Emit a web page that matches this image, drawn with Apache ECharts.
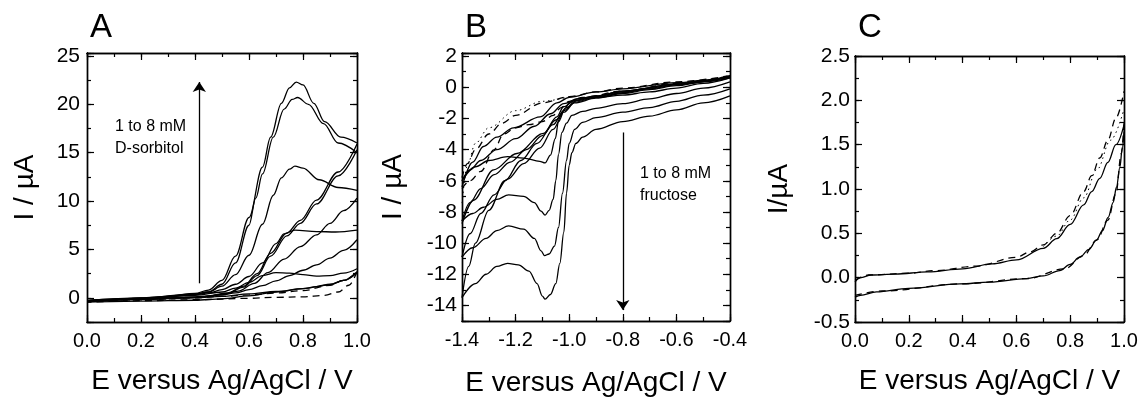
<!DOCTYPE html>
<html><head><meta charset="utf-8">
<script src="https://cdn.jsdelivr.net/npm/echarts@6/dist/echarts.min.js"></script>
<style>html,body{margin:0;padding:0;background:#fff}#c{width:1141px;height:398px}</style>
</head><body><div id="c"></div><script>
// ---------------- Panel A : 1 to 8 mM D-sorbitol (E / V, I / µA) ----------------
const A_blank_fwd = [[0,-0.35],[0.2,-0.2],[0.4,0.0],[0.5,0.15],[0.6,0.3],[0.7,0.5],[0.8,0.75],[0.9,1.3],[0.95,1.8],[1.0,2.7]];
const A_blank_rev = [[1.0,2.7],[0.97,1.3],[0.93,0.6],[0.88,0.25],[0.8,0.1],[0.7,0.05],[0.6,-0.05],[0.4,-0.2],[0.2,-0.3],[0,-0.45]];
const A_low       = [[0,-0.45],[0.2,-0.35],[0.4,-0.25],[0.5,-0.1],[0.6,0.2],[0.7,0.6],[0.8,0.95],[0.9,1.35],[0.95,1.8],[1.0,2.7]];
const A_c4_fwd = [[0,-0.4],[0.2,-0.1],[0.4,0.25],[0.5,0.6],[0.55,1.0],[0.6,1.6],[0.65,2.3],[0.7,2.6],[0.75,2.55],[0.8,2.4],[0.85,2.25],[0.9,2.3],[0.95,2.55],[1.0,3.0]];
const A_c4_rev = [[1.0,2.6],[0.95,1.8],[0.9,1.4],[0.85,1.15],[0.8,0.95],[0.7,0.65],[0.6,0.4],[0.5,0.15],[0.4,0.0],[0.2,-0.15],[0,-0.35]];
const A_c5_fwd = [[0,-0.35],[0.2,-0.05],[0.4,0.3],[0.45,0.5],[0.5,0.85],[0.55,1.4],[0.6,2.2],[0.65,3.6],[0.7,5.6],[0.73,6.6],[0.77,7.0],[0.85,6.85],[0.92,6.8],[1.0,7.0]];
const A_c5_rev = [[1.0,6.0],[0.95,4.9],[0.9,4.1],[0.85,3.4],[0.8,2.85],[0.75,2.3],[0.7,1.75],[0.65,1.25],[0.6,0.85],[0.55,0.5],[0.5,0.3],[0.4,0.05],[0.2,-0.15],[0,-0.35]];
const A_c6_fwd = [[0,-0.35],[0.2,-0.05],[0.4,0.35],[0.45,0.6],[0.5,1.2],[0.55,2.4],[0.6,4.4],[0.65,7.6],[0.69,10.6],[0.72,12.4],[0.75,13.3],[0.77,13.6],[0.8,13.4],[0.86,12.2],[0.93,11.4],[1.0,11.1]];
const A_c6_rev = [[1.0,10.3],[0.95,9.0],[0.9,7.7],[0.85,6.5],[0.79,5.3],[0.73,4.0],[0.67,2.6],[0.62,1.5],[0.56,0.7],[0.5,0.3],[0.4,0.05],[0.2,-0.15],[0,-0.35]];
const A_c7_fwd = [[0,-0.3],[0.2,-0.02],[0.4,0.4],[0.45,0.6],[0.5,1.4],[0.55,3.6],[0.6,7.5],[0.625,10.3],[0.65,12.8],[0.69,16.6],[0.73,19.5],[0.76,20.5],[0.78,20.7],[0.82,20.0],[0.876,18.0],[0.93,16.0],[1.0,15.0]];
const A_c7_rev = [[1.0,15.3],[0.93,12.6],[0.85,9.7],[0.79,7.7],[0.74,6.4],[0.68,4.3],[0.63,2.3],[0.58,1.1],[0.52,0.45],[0.45,0.15],[0.4,0.05],[0.2,-0.12],[0,-0.3]];
const A_c8_fwd = [[0,-0.3],[0.1,-0.15],[0.2,0.0],[0.3,0.15],[0.4,0.45],[0.45,0.8],[0.5,1.8],[0.55,4.3],[0.6,8.3],[0.65,13.5],[0.68,16.6],[0.72,20.1],[0.75,21.7],[0.775,22.3],[0.8,22.0],[0.84,20.1],[0.88,18.2],[0.94,16.6],[1.0,16.0]];
const A_c8_rev = [[1.0,15.9],[0.93,13.0],[0.85,10.1],[0.79,8.0],[0.74,6.7],[0.68,4.6],[0.63,2.5],[0.58,1.2],[0.52,0.5],[0.45,0.2],[0.4,0.1],[0.3,0.0],[0.2,-0.1],[0.1,-0.2],[0,-0.3]];
const A_arrow = [[0.416,1.5],[0.416,22.3]];

// ---------------- Panel B : 1 to 8 mM fructose ----------------
const B_blank_fwd = [[-0.4,0.75],[-0.6,0.35],[-0.8,-0.05],[-0.9,-0.3],[-1.0,-0.6],[-1.1,-1.0],[-1.2,-1.8],[-1.25,-2.3],[-1.3,-3.0],[-1.35,-4.0],[-1.38,-4.9],[-1.4,-5.8]];
const B_blank_rev = [[-1.4,-6.5],[-1.37,-6.0],[-1.33,-5.4],[-1.28,-4.0],[-1.245,-3.0],[-1.2,-2.6],[-1.15,-2.4],[-1.1,-2.2],[-1.06,-1.8],[-1.03,-1.3],[-1.0,-0.9],[-0.95,-0.65],[-0.8,-0.25],[-0.6,0.25],[-0.4,0.75]];
const B_dot = [[-1.0,-0.6],[-1.1,-0.9],[-1.2,-1.5],[-1.3,-2.6],[-1.35,-3.6],[-1.38,-5.0],[-1.4,-7.5]];
const B_c1 = [[-0.4,0.7],[-0.6,0.3],[-0.8,-0.1],[-0.9,-0.3],[-1.0,-0.65],[-1.046,-1.0],[-1.108,-1.9],[-1.208,-2.6],[-1.27,-3.2],[-1.32,-3.8],[-1.36,-4.8],[-1.4,-6.4]];
const B_c2 = [[-1.4,-8.75],[-1.357,-7.25],[-1.282,-5.3],[-1.195,-4.25],[-1.096,-2.96],[-1.046,-1.9],[-1.021,-1.25],[-0.98,-0.85],[-0.9,-0.55],[-0.8,-0.25],[-0.6,0.2],[-0.4,0.7]];
const B_c5_fwd = [[-0.4,0.6],[-0.5,0.25],[-0.6,-0.05],[-0.7,-0.3],[-0.8,-0.5],[-0.9,-0.65],[-0.97,-0.75],[-1.0,-1.0],[-1.015,-1.35],[-1.04,-2.2],[-1.052,-3.3],[-1.07,-4.35],[-1.09,-4.85],[-1.11,-4.75],[-1.17,-4.55],[-1.23,-4.45],[-1.3,-4.7],[-1.35,-5.1],[-1.4,-6.0]];
const B_c5_rev = [[-1.4,-6.0],[-1.37,-5.3],[-1.33,-4.7],[-1.27,-4.0],[-1.2,-3.3],[-1.13,-2.5],[-1.07,-1.7],[-1.02,-1.05],[-0.97,-0.75],[-0.9,-0.55],[-0.8,-0.25],[-0.6,0.2],[-0.4,0.7]];
const B_c6_fwd = [[-0.4,0.35],[-0.5,-0.05],[-0.6,-0.4],[-0.7,-0.75],[-0.8,-1.05],[-0.9,-1.35],[-0.95,-1.55],[-0.99,-1.8],[-1.01,-2.3],[-1.027,-2.9],[-1.04,-4.3],[-1.05,-6.0],[-1.06,-7.2],[-1.075,-7.9],[-1.09,-8.2],[-1.105,-7.95],[-1.13,-7.4],[-1.17,-7.0],[-1.226,-6.9],[-1.27,-7.2],[-1.32,-7.7],[-1.36,-8.1],[-1.4,-8.6]];
const B_c6_rev = [[-1.4,-8.6],[-1.37,-7.4],[-1.33,-6.5],[-1.28,-5.6],[-1.22,-4.8],[-1.16,-4.0],[-1.1,-3.1],[-1.05,-2.1],[-1.01,-1.3],[-0.97,-0.85],[-0.9,-0.6],[-0.8,-0.3],[-0.7,-0.05],[-0.6,0.2],[-0.5,0.45],[-0.4,0.7]];
const B_c7_fwd = [[-0.4,-0.1],[-0.5,-0.5],[-0.6,-0.9],[-0.7,-1.3],[-0.8,-1.6],[-0.9,-1.95],[-0.95,-2.25],[-0.98,-2.7],[-1.0,-3.6],[-1.01,-4.7],[-1.025,-6.8],[-1.04,-9.0],[-1.055,-10.2],[-1.075,-10.7],[-1.092,-10.8],[-1.105,-10.5],[-1.13,-9.7],[-1.17,-9.1],[-1.226,-8.9],[-1.27,-9.2],[-1.31,-9.7],[-1.36,-10.3],[-1.4,-10.9]];
const B_c7_rev = [[-1.4,-10.9],[-1.37,-9.4],[-1.33,-8.1],[-1.28,-6.9],[-1.23,-5.9],[-1.17,-4.9],[-1.11,-3.9],[-1.06,-2.7],[-1.02,-1.6],[-0.98,-1.0],[-0.9,-0.7],[-0.8,-0.4],[-0.7,-0.15],[-0.6,0.1],[-0.5,0.35],[-0.4,0.6]];
const B_c8_fwd = [[-0.4,-0.55],[-0.5,-1.0],[-0.6,-1.45],[-0.7,-1.85],[-0.8,-2.2],[-0.9,-2.7],[-0.95,-3.2],[-0.975,-3.6],[-0.99,-4.2],[-1.0,-5.0],[-1.01,-6.8],[-1.02,-9.3],[-1.035,-11.3],[-1.05,-12.6],[-1.07,-13.3],[-1.09,-13.6],[-1.1,-13.4],[-1.12,-12.6],[-1.15,-11.8],[-1.19,-11.4],[-1.23,-11.3],[-1.27,-11.5],[-1.31,-12.0],[-1.35,-12.6],[-1.4,-13.5]];
const B_c8_rev = [[-1.4,-13.5],[-1.375,-11.5],[-1.35,-10.0],[-1.3,-7.9],[-1.24,-6.0],[-1.18,-4.7],[-1.12,-3.6],[-1.06,-2.4],[-1.02,-1.5],[-0.98,-0.95],[-0.9,-0.65],[-0.8,-0.35],[-0.7,-0.1],[-0.6,0.15],[-0.5,0.4],[-0.4,0.65]];
const B_arrow = [[-0.8,-2.9],[-0.8,-14.3]];

// ---------------- Panel C : control ----------------
const C_solid_up  = [[0,-0.05],[0.02,0.0],[0.06,0.03],[0.15,0.04],[0.27,0.065],[0.4,0.1],[0.51,0.155],[0.6,0.2],[0.7,0.33],[0.75,0.44],[0.8,0.6],[0.85,0.82],[0.88,0.97],[0.91,1.12],[0.94,1.3],[0.97,1.5],[1.0,1.72]];
const C_solid_low = [[0,-0.22],[0.02,-0.2],[0.08,-0.16],[0.2,-0.12],[0.39,-0.07],[0.5,-0.05],[0.638,-0.01],[0.7,0.02],[0.761,0.08],[0.8,0.15],[0.835,0.23],[0.87,0.32],[0.897,0.42],[0.92,0.53],[0.941,0.68],[0.96,0.85],[0.972,1.02],[0.985,1.25],[0.993,1.45],[1.0,1.65]];
const C_dash_up   = [[0,-0.03],[0.05,0.03],[0.2,0.05],[0.3,0.08],[0.45,0.13],[0.6,0.23],[0.65,0.29],[0.7,0.37],[0.75,0.5],[0.8,0.7],[0.85,0.97],[0.88,1.15],[0.91,1.35],[0.94,1.55],[0.97,1.8],[1.0,2.1]];
const C_dash_low  = [[0,-0.2],[0.1,-0.15],[0.4,-0.07],[0.64,-0.01],[0.78,0.1],[0.85,0.25],[0.9,0.43],[0.94,0.65],[0.97,0.95],[0.99,1.4],[1.0,1.75]];
const C_dot       = [[0.7,0.35],[0.75,0.47],[0.8,0.65],[0.85,0.9],[0.9,1.22],[0.95,1.55],[1.0,1.9]];

// ---------------- axes / ticks ----------------
const panels = [
  {grid:{left:87,top:53,width:270,height:269}, x:{min:0,max:1,major:0.2,minor:0.1}, y:{min:-2.5,max:25.3,major:5,minor:2.5,dec:0},
   xName:'E versus Ag/AgCl / V', yName:'I / µA', xGap:45, yGap:48, letter:'A', ym:7},
  {grid:{left:462,top:53,width:268,height:268}, x:{min:-1.4,max:-0.4,major:0.2,minor:0.1}, y:{min:-15,max:2.2,major:2,minor:1,dec:0},
   xName:'E versus Ag/AgCl / V', yName:'I / µA', xGap:48, yGap:55, letter:'B', ym:5},
  {grid:{left:855,top:56,width:269,height:266}, x:{min:0,max:1,major:0.2,minor:0.1}, y:{min:-0.5,max:2.5,major:0.5,minor:0.25,dec:1},
   xName:'E versus Ag/AgCl / V', yName:'I/µA', xGap:45, yGap:62, letter:'C', ym:5}
];

const FONT = '"Liberation Sans", Arial, sans-serif';
const LS = {color:'#000', width:1.4};
function fmt(step, dec){
  return function(v){ const k = v/step; return Math.abs(k-Math.round(k))<1e-6 ? (Math.round(k)*step).toFixed(dec) : ''; };
}
const xAxes = [], yAxes = [], grids = [], mainIdx = [];
panels.forEach((p, g) => {
  grids.push(Object.assign({outerBoundsMode:'none', containLabel:false}, p.grid));
  const mk = (dim, pos, a, major, label, name, gap, dec) => {
    const ax = {
      type:'value', gridIndex:g, position:pos, min:a.min, max:a.max,
      axisLine:{show:true, onZero:false, lineStyle:LS},
      axisTick:{show:true, inside:true, length: major?7:4, interval:0, lineStyle:{color:'#000',width:1.2}},
      axisLabel:{show:label, interval:0, margin: dim==='x'?9:p.ym, fontSize: dim==='x'?20:21, color:'#000', fontFamily:FONT,
                 formatter: fmt(a.major, dec), showMinLabel:true, showMaxLabel:true, hideOverlap:false},
      splitLine:{show:false}, minorTick:{show:false}, minorSplitLine:{show:false}
    };
    if (major) { ax.minInterval = a.major; ax.maxInterval = a.major; ax.splitNumber = Math.round((a.max-a.min)/a.major); }
    else { ax.interval = a.minor; }
    if (name) {
      ax.name = name; ax.nameLocation = 'middle'; ax.nameGap = gap; ax.nameMoveOverlap = false;
      ax.nameTextStyle = {fontSize:28, color:'#000', fontFamily:FONT};
    }
    return ax;
  };
  const xi = xAxes.length, yi = yAxes.length;
  xAxes.push(mk('x','bottom',p.x,true,true,p.xName,p.xGap,1));
  xAxes.push(mk('x','top',p.x,true,false,null,0,1));
  xAxes.push(mk('x','bottom',p.x,false,false,null,0,1));
  xAxes.push(mk('x','top',p.x,false,false,null,0,1));
  yAxes.push(mk('y','left',p.y,true,true,p.yName,p.yGap,p.y.dec));
  yAxes.push(mk('y','right',p.y,true,false,null,0,p.y.dec));
  yAxes.push(mk('y','left',p.y,false,false,null,0,p.y.dec));
  yAxes.push(mk('y','right',p.y,false,false,null,0,p.y.dec));
  mainIdx.push([xi, yi]);
});

// ---------------- series ----------------
const curves = [
  [0,A_blank_fwd,'dash'],[0,A_blank_rev,'dash'],[0,A_low,'solid'],
  [0,A_c4_fwd,'solid'],[0,A_c4_rev,'solid'],[0,A_c5_fwd,'solid'],[0,A_c5_rev,'solid'],
  [0,A_c6_fwd,'solid'],[0,A_c6_rev,'solid'],[0,A_c7_fwd,'solid'],[0,A_c7_rev,'solid'],
  [0,A_c8_fwd,'solid'],[0,A_c8_rev,'solid'],
  [1,B_blank_fwd,'dash'],[1,B_blank_rev,'dash'],[1,B_dot,'dot'],[1,B_c1,'solid'],[1,B_c2,'solid'],
  [1,B_c5_fwd,'solid'],[1,B_c5_rev,'solid'],[1,B_c6_fwd,'solid'],[1,B_c6_rev,'solid'],
  [1,B_c7_fwd,'solid'],[1,B_c7_rev,'solid'],[1,B_c8_fwd,'solid'],[1,B_c8_rev,'solid'],
  [2,C_solid_up,'solid'],[2,C_solid_low,'solid'],[2,C_dash_up,'dash'],[2,C_dash_low,'dash'],[2,C_dot,'dot']
];
const typeMap = {solid:'solid', dash:[7,5], dot:[1.5,3.5]};
const series = curves.map(([p, data, st]) => ({
  type:'line', xAxisIndex:mainIdx[p][0], yAxisIndex:mainIdx[p][1], data:data,
  showSymbol:false, symbol:'none', smooth:0.35, smoothMonotone:'x', silent:true,
  lineStyle:{color:'#000', width: st==='dot'?1:1.3, type:typeMap[st]}, z:3
}));
[[0,A_arrow],[1,B_arrow]].forEach(([p, a]) => {
  series.push({type:'line', xAxisIndex:mainIdx[p][0], yAxisIndex:mainIdx[p][1], data:[], silent:true,
    markLine:{silent:true, symbol:['none','arrow'], symbolSize:10, label:{show:false},
      lineStyle:{color:'#000', width:1.3, type:'solid'}, animation:false,
      data:[[{coord:a[0]},{coord:a[1]}]]}});
});

const annot = [
  {left:115, top:116, text:'1 to 8 mM\nD-sorbitol'},
  {left:640, top:163, text:'1 to 8 mM\nfructose'}
];
const graphic = [];
panels.forEach((p) => {
  graphic.push({type:'text', left:p.grid.left+3, top:11, style:{text:p.letter, fontSize:33, fill:'#000', fontFamily:FONT}});
});
annot.forEach(a => graphic.push({type:'text', left:a.left, top:a.top,
  style:{text:a.text, fontSize:16, lineHeight:22, fill:'#000', fontFamily:FONT}}));

const chart = echarts.init(document.getElementById('c'), null, {renderer:'canvas'});
chart.setOption({
  animation:false, backgroundColor:'#fff',
  grid:grids, xAxis:xAxes, yAxis:yAxes, series:series, graphic:graphic
});
</script></body></html>
